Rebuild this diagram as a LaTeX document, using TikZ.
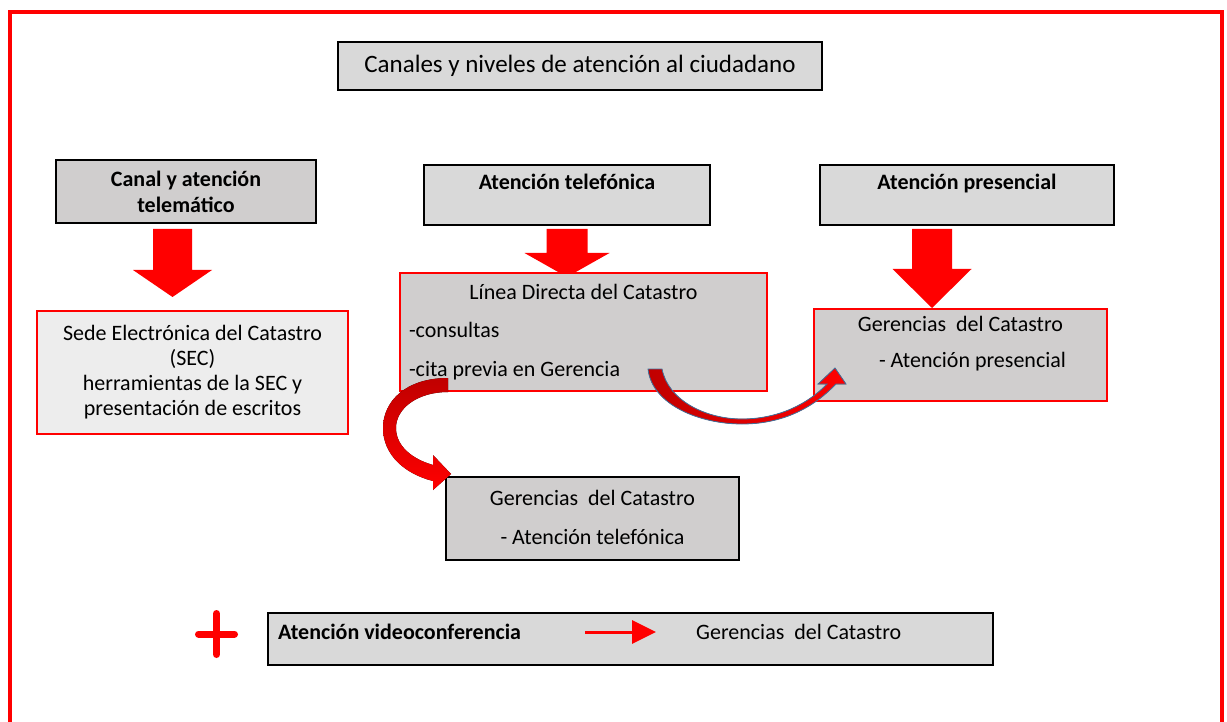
\documentclass[tikz,border=0pt]{standalone}
\usepackage{fontspec}
\setmainfont{Carlito}
\usetikzlibrary{arrows.meta}
\definecolor{boxgray}{HTML}{D9D9D9}
\definecolor{boxdark}{HTML}{D0CECE}
\definecolor{boxlight}{HTML}{EDEDED}
\definecolor{darkred}{HTML}{C00000}
\definecolor{edgeblue}{HTML}{41719C}
\tikzstyle{box}=[draw, line width=2pt, inner sep=0pt, align=center, font=\fontsize{22}{26}\selectfont]
\tikzstyle{headbox}=[box, fill=boxgray, font=\fontsize{22}{26}\selectfont\bfseries]
\tikzstyle{redbox}=[box, draw=red, line width=2.5pt, fill=boxdark]
\tikzstyle{bigarrow}=[fill=red]

\begin{document}
\begin{tikzpicture}[x=1pt, y=-1pt]
        \useasboundingbox (0,0) rectangle (1227,722);
        \draw[red, line width=4pt] (10,730) -- (10,12) -- (1222,12) -- (1222,730);
        % titulo y canales
        \node[box, fill=boxgray, minimum width=484, minimum height=48, font=\fontsize{25}{30}\selectfont] (title) at (580,66) {Canales y niveles de atención al ciudadano};
        \node[headbox, fill=boxdark, minimum width=260, minimum height=63] (telem) at (186,191.5) {Canal y atención\\telemático};
        \node[headbox, minimum width=286, minimum height=60] (telef) at (567,195) {Atención telefónica\\~};
        \node[headbox, minimum width=294, minimum height=60] (presen) at (967,195) {Atención presencial\\~};
        \foreach \ax/\ay/\ny/\ty/\sw/\hw in {172.5/229/270/297/19.5/39.5, 567/229/253/277/20.5/42.5, 932/229/269/308/20/39.5}
            \fill[bigarrow] (\ax-\sw,\ay) -- (\ax+\sw,\ay) -- (\ax+\sw,\ny) -- (\ax+\hw,\ny) -- (\ax,\ty) -- (\ax-\hw,\ny) -- (\ax-\sw,\ny) -- cycle;
        % niveles
        \node[redbox, fill=boxlight, minimum width=311, minimum height=123, font=\fontsize{22}{25}\selectfont] (sec) at (192.5,372.5) {Sede Electrónica del Catastro\\(SEC)\\herramientas de la SEC y\\presentación de escritos};
        \node[redbox, minimum width=367, minimum height=118, text width=349, align=flush left, font=\fontsize{22}{38.5}\selectfont] (linea) at (583.5,332) {\makebox[\linewidth]{Línea Directa del Catastro}\\-consultas\\-cita previa en Gerencia};
        \node[redbox, minimum width=293, minimum height=92, font=\fontsize{22}{36}\selectfont] (gerpres) at (960.5,355) {Gerencias~ del Catastro\\\hspace*{24pt}- Atención presencial\\[-9pt]\mbox{}};
        \node[box, fill=boxdark, minimum width=293, minimum height=83, font=\fontsize{22}{39}\selectfont] (gertel) at (592.5,518.5) {Gerencias~ del Catastro\\- Atención telefónica\\[-36pt]\mbox{}};
        % flechas curvas
        \fill[top color=darkred, middle color=red, bottom color=red] (448,378) .. controls (405,378) and (383,402) .. (383,428) .. controls (383,455) and (405,474) .. (433,481) -- (433,490) -- (451,474) -- (433,455) -- (433,465) .. controls (412,459) and (396,446) .. (396,428) .. controls (396,408) and (418,392) .. (448,392) -- cycle;
        \filldraw[draw=edgeblue, line width=0.8pt, left color=darkred, right color=red] (648,369) .. controls (652,405) and (700,424) .. (742,424) .. controls (785,424) and (815,406) .. (836,384) -- (846,384) -- (835,368) -- (818,384) -- (827,384) .. controls (808,404) and (778,419) .. (742,419) .. controls (705,419) and (668,400) .. (662,369) -- cycle;
        % videoconferencia
        \draw[red, line width=7pt, line cap=round] (198.5,634) -- (234.5,634) (216.5,613.5) -- (216.5,654.5);
        \node[box, fill=boxgray, minimum width=725, minimum height=52] (video) at (630.5,639) {};
        \node[font=\fontsize{22}{26}\selectfont\bfseries, anchor=west, inner sep=0pt] (vc) at (278,632) {Atención videoconferencia};
        \node[font=\fontsize{22}{26}\selectfont, anchor=west, inner sep=0pt] (gervc) at (696,632) {Gerencias~ del Catastro};
        \draw[red, line width=3pt, -{Triangle[length=24pt, width=23pt]}, shorten <=64pt, shorten >=40pt] (vc.east) -- (gervc.west);
    \end{tikzpicture}
\end{document}
